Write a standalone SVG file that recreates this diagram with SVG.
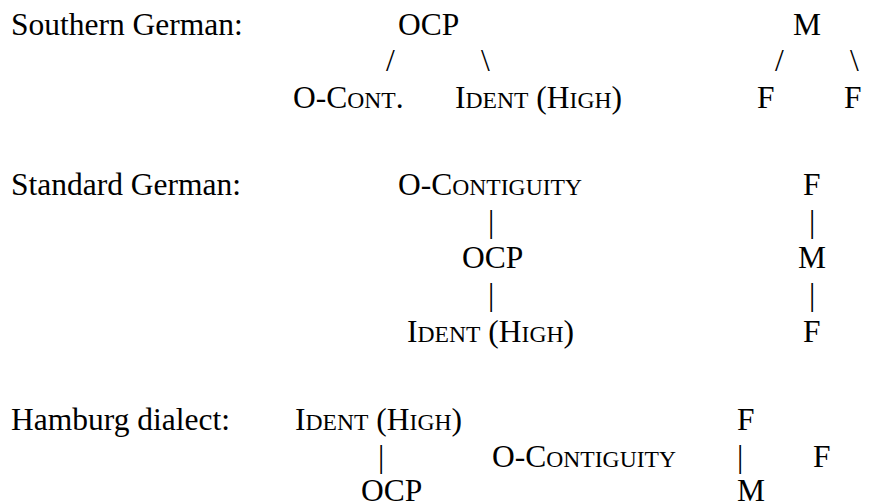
<svg xmlns="http://www.w3.org/2000/svg" width="872" height="504" viewBox="0 0 872 504">
<style>
text{font-family:"Liberation Serif","Times New Roman",Times,serif;font-size:31.5px;fill:#000}
.sc{font-size:23.6px}
</style>
<rect width="872" height="504" fill="#fff"/>
<g id="labels">
<text x="11" y="35">Southern German:</text>
<text x="11" y="195">Standard German:</text>
<text x="11" y="430">Hamburg dialect:</text>
</g>
<g id="southern">
<g id="sg-ocp"><text x="398" y="35">OCP</text></g>
<g id="sg-ocont"><text x="293" y="108">O-C<tspan class="sc">ONT</tspan>.</text></g>
<g id="sg-ident"><text x="455" y="108">I<tspan class="sc">DENT</tspan> (H<tspan class="sc">IGH</tspan>)</text></g>
<g id="sg-m"><text x="793" y="35">M</text></g>
<g id="sg-f1"><text x="757" y="108">F</text></g>
<g id="sg-f2"><text x="844" y="108">F</text></g>
</g>
<g id="standard">
<g id="st-ocont"><text x="398" y="195">O-C<tspan class="sc">ONTIGUITY</tspan></text></g>
<g id="st-ocp"><text x="462" y="268">OCP</text></g>
<g id="st-ident"><text x="407" y="342">I<tspan class="sc">DENT</tspan> (H<tspan class="sc">IGH</tspan>)</text></g>
<g id="st-f1"><text x="803" y="195">F</text></g>
<g id="st-m"><text x="798" y="268">M</text></g>
<g id="st-f2"><text x="803" y="342">F</text></g>
</g>
<g id="hamburg">
<g id="hb-ident"><text x="295" y="430">I<tspan class="sc">DENT</tspan> (H<tspan class="sc">IGH</tspan>)</text></g>
<g id="hb-ocp"><text x="361" y="501">OCP</text></g>
<g id="hb-ocont"><text x="492" y="467">O-C<tspan class="sc">ONTIGUITY</tspan></text></g>
<g id="hb-f1"><text x="737" y="430">F</text></g>
<g id="hb-f2"><text x="813" y="467">F</text></g>
<g id="hb-m"><text x="737" y="501">M</text></g>
</g>
<g id="connectors">
<text x="386" y="71">/</text>
<text x="481" y="71">\</text>
<text x="775" y="71">/</text>
<text x="850" y="71">\</text>
<text x="488" y="232">|</text>
<text x="488" y="305">|</text>
<text x="809" y="232">|</text>
<text x="809" y="305">|</text>
<text x="378" y="467">|</text>
<text x="737" y="467">|</text>
</g>
</svg>
